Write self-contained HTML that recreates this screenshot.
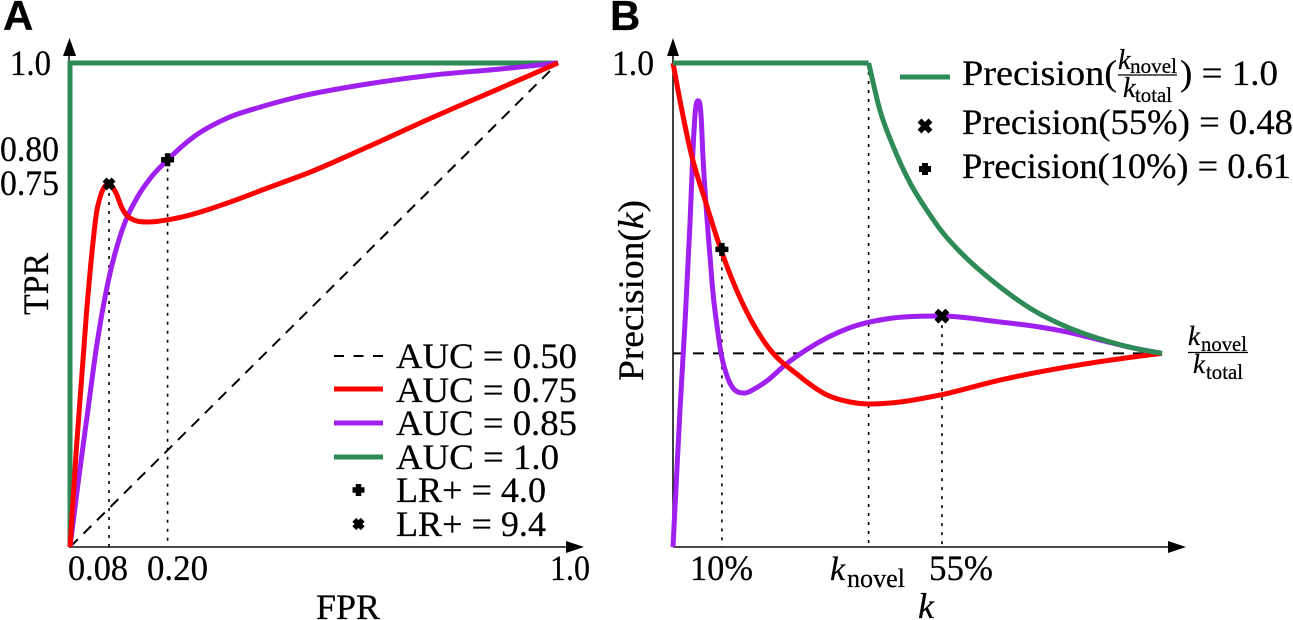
<!DOCTYPE html>
<html lang="en">
<head>
<meta charset="utf-8">
<title>ROC and Precision curves</title>
<style>
html,body{margin:0;padding:0;background:#fff;}
svg{display:block;}
text{font-family:"Liberation Serif",serif;fill:#000;stroke:#000;stroke-width:.25px;}
.panel{font-family:"Liberation Sans",sans-serif;font-weight:bold;font-size:42px;}
.lab{font-size:36px;}
.it{font-style:italic;}
</style>
</head>
<body>
<svg id="fig" width="1293" height="620" viewBox="0 0 1293 620" xmlns="http://www.w3.org/2000/svg">
  <rect x="0" y="0" width="1293" height="620" fill="#fff"/>
  <text class="panel" x="3" y="30">A</text>
  <text class="panel" x="610" y="30">B</text>

  <g>
    <line x1="69" y1="547" x2="69" y2="50" stroke="#222" stroke-width="1.6"/>
    <polygon points="69.500,38 63,56 76,56" fill="#000"/>
    <text class="lab" x="10" y="75" textLength="41" lengthAdjust="spacingAndGlyphs">1.0</text>
    <text class="lab" x="0" y="161" textLength="59" lengthAdjust="spacingAndGlyphs">0.80</text>
    <text class="lab" x="0" y="195" textLength="59" lengthAdjust="spacingAndGlyphs">0.75</text>
    <text class="lab" transform="translate(48,315) rotate(-90)" x="0" y="0" textLength="62" lengthAdjust="spacingAndGlyphs">TPR</text>
  </g>
  <g>
    <line x1="69" y1="547" x2="570" y2="547" stroke="#333" stroke-width="1.8"/>
    <polygon points="584,547 566,541 566,553" fill="#000"/>
    <text class="lab" x="68" y="580" textLength="60" lengthAdjust="spacingAndGlyphs">0.08</text>
    <text class="lab" x="147" y="580" textLength="61" lengthAdjust="spacingAndGlyphs">0.20</text>
    <text class="lab" x="550" y="580" textLength="40" lengthAdjust="spacingAndGlyphs">1.0</text>
    <text class="lab" x="316" y="619" textLength="64" lengthAdjust="spacingAndGlyphs">FPR</text>
  </g>

  <g>
    <line x1="334" y1="356" x2="383" y2="356" stroke="#000" stroke-width="2" stroke-dasharray="10 9.500"/>
    <line x1="334" y1="389" x2="383" y2="389" stroke="#ff0000" stroke-width="5"/>
    <line x1="334" y1="423" x2="383" y2="423" stroke="#a020f0" stroke-width="5"/>
    <line x1="334" y1="457" x2="383" y2="457" stroke="#2e8b57" stroke-width="5"/>
    <path d="M358.500 484V496M352.500 490H364.500" stroke="#000" stroke-width="5.500" fill="none"/>
    <path d="M354.300 519.800L362.700 528.200M362.700 519.800L354.300 528.200" stroke="#000" stroke-width="5.500" fill="none"/>
    <text class="lab" x="396" y="368" textLength="181" lengthAdjust="spacingAndGlyphs">AUC = 0.50</text>
    <text class="lab" x="396" y="402" textLength="181" lengthAdjust="spacingAndGlyphs">AUC = 0.75</text>
    <text class="lab" x="396" y="435" textLength="181" lengthAdjust="spacingAndGlyphs">AUC = 0.85</text>
    <text class="lab" x="396" y="469" textLength="163" lengthAdjust="spacingAndGlyphs">AUC = 1.0</text>
    <text class="lab" x="396" y="502" textLength="150" lengthAdjust="spacingAndGlyphs">LR+ = 4.0</text>
    <text class="lab" x="396" y="536" textLength="150" lengthAdjust="spacingAndGlyphs">LR+ = 9.4</text>
  </g>

  <g>
    <line x1="673" y1="547" x2="673" y2="50" stroke="#000" stroke-width="1.5"/>
    <polygon points="673,38 667,56 679,56" fill="#000"/>
    <text class="lab" x="612" y="75" textLength="42" lengthAdjust="spacingAndGlyphs">1.0</text>
    <text class="lab" transform="translate(643,381) rotate(-90)" x="0" y="0" textLength="181" lengthAdjust="spacingAndGlyphs">Precision(<tspan class="it">k</tspan>)</text>
  </g>
  <g>
    <line x1="673" y1="547" x2="1172" y2="547" stroke="#333" stroke-width="1.8"/>
    <polygon points="1186,547 1168,541 1168,553" fill="#000"/>
    <text class="lab" x="690" y="580" textLength="63" lengthAdjust="spacingAndGlyphs">10%</text>
    <text class="lab" x="929" y="580" textLength="64" lengthAdjust="spacingAndGlyphs">55%</text>
    <text class="it" x="830" y="580" font-size="34">k</text>
    <text x="847" y="587" font-size="26" textLength="58" lengthAdjust="spacingAndGlyphs">novel</text>
    <text class="it" x="918" y="618" font-size="36">k</text>
  </g>

  <g>
    <text class="it" x="1188" y="345" font-size="27">k</text>
    <text x="1201" y="351" font-size="21" textLength="46" lengthAdjust="spacingAndGlyphs">novel</text>
    <line x1="1188" y1="352.500" x2="1248" y2="352.500" stroke="#000" stroke-width="1.2"/>
    <text class="it" x="1193" y="373" font-size="27">k</text>
    <text x="1206" y="379" font-size="21" textLength="37" lengthAdjust="spacingAndGlyphs">total</text>
  </g>

  <g>
    <line x1="900" y1="77" x2="950" y2="77" stroke="#2e8b57" stroke-width="5"/>
    <path d="M919.500 120.500L930.500 131.500M930.500 120.500L919.500 131.500" stroke="#000" stroke-width="5.500" fill="none"/>
    <path d="M925 163V175M919 169H931" stroke="#000" stroke-width="6" fill="none"/>
    <text class="lab" x="962" y="85" textLength="155" lengthAdjust="spacingAndGlyphs">Precision(</text>
    <text class="it" x="1118" y="69" font-size="28">k</text>
    <text x="1130" y="73" font-size="21" textLength="47" lengthAdjust="spacingAndGlyphs">novel</text>
    <line x1="1118" y1="75" x2="1177" y2="75" stroke="#000" stroke-width="1.2"/>
    <text class="it" x="1123" y="97" font-size="28">k</text>
    <text x="1135" y="102" font-size="21" textLength="37" lengthAdjust="spacingAndGlyphs">total</text>
    <text class="lab" x="1180" y="85" textLength="98" lengthAdjust="spacingAndGlyphs">) = 1.0</text>
    <text class="lab" x="962" y="134" textLength="331" lengthAdjust="spacingAndGlyphs">Precision(55%) = 0.48</text>
    <text class="lab" x="962" y="178" textLength="329" lengthAdjust="spacingAndGlyphs">Precision(10%) = 0.61</text>
  </g>

  <g id="panelA"></g>
  <g id="panelB"></g>
</svg>

<script>
// Panel A: ROC curves
const redFpr = [0, .0133, .0338, .0461, .0543, .0645, .0789, .0932, .1076, .1199, .1609, .2203, .3227, .4047, .4928, .6096, .7449, .8822, 1];
const redTpr = [0, .2066, .4835, .6198, .6901, .7314, .75, .7335, .6983, .6818, .6715, .6798, .7107, .7417, .7748, .8264, .8884, .9483, 1];
const purpleFpr = [0, .0174, .0359, .0543, .0789, .1055, .1383, .165, .2018, .2531, .3227, .3904, .458, .6096, .7449, .8822, 1];
const purpleTpr = [0, .1384, .2769, .4132, .5517, .6508, .7231, .7624, .8017, .8471, .8864, .9091, .9277, .9566, .9752, .9876, 1];
const greenFpr = [0, 0, 1];
const greenTpr = [0, 1, 1];
const chanceFpr = [0, 1];
const chanceTpr = [0, 1];
const lrPlusFpr = [0.20];
const lrPlusTpr = [0.80];
const lrCrossFpr = [0.08];
const lrCrossTpr = [0.75];

// Panel B: Precision(k) curves (k in percent)
const precRedK = [0, 1.02, 3.68, 6.54, 9.82, 13.9, 19.43, 25.56, 31.5, 36.2, 40.5, 46.4, 54.6, 66.9, 80.6, 94.07, 100];
const precRedP = [1, .9442, .814, .717, .6136, .5103, .4132, .3554, .314, .2996, .2955, .2996, .314, .345, .372, .3926, .4];
const precPurpleK = [0, 1.43, 2.45, 3.48, 4.09, 4.5, 5.11, 5.73, 6.13, 6.75, 7.57, 8.18, 9, 9.82, 10.84, 12.27, 14.72, 16.97, 19.43, 22.9, 27.2, 36, 45, 54.8, 66.9, 73.6, 80.6, 87.3, 94.1, 100];
const precPurpleP = [0, .2831, .4628, .6694, .8202, .8926, .922, .8926, .8058, .7066, .6, .5248, .4566, .4008, .3595, .3285, .3182, .3285, .345, .376, .407, .4525, .4731, .4773, .4649, .4566, .4442, .4277, .4112, .4];
const precGreenFlatK = [0, 40];
const precGreenFlatP = [1, 1];
const precGreenDecayK = [40, 42.3, 45, 48.5, 51.9, 55.2, 58.7, 66.9, 73.6, 80.6, 87.3, 94.1, 100];
const precGreenDecayP = [1, .903, .8285, .752, .696, .649, .61, .5372, .4897, .4545, .43, .4112, .4];
const baselineK = [0, 100];
const baselineP = [0.4, 0.4];
const kNovelValue = [40];
const kNovelTop = [1];
const plusK = [10];
const plusP = [0.615];
const crossK = [55];
const crossP = [0.477];

const NS = 'http://www.w3.org/2000/svg';
const ax = v => 70 + 488 * v;
const ay = v => 547 - 484 * v;
const bx = v => 673 + 4.89 * v;
const by = v => 547 - 484 * v;
const panelA = document.getElementById('panelA');
const panelB = document.getElementById('panelB');

function straightPath(xs, ys, sx, sy) {
  return xs.map((x, i) => (i ? 'L' : 'M') + sx(x).toFixed(2) + ' ' + sy(ys[i]).toFixed(2)).join('');
}

function smoothPath(xs, ys, sx, sy) {
  const px = xs.map(sx);
  const py = ys.map(sy);
  const n = px.length;
  const d = [];
  for (let i = 0; i < n - 1; i++) d.push((py[i + 1] - py[i]) / (px[i + 1] - px[i]));
  const m = [d[0]];
  for (let i = 1; i < n - 1; i++) {
    if (d[i - 1] * d[i] <= 0) {
      m.push(0);
    } else {
      const h0 = px[i] - px[i - 1];
      const h1 = px[i + 1] - px[i];
      let t = (h1 * d[i - 1] + h0 * d[i]) / (h0 + h1);
      const lim = 3 * Math.min(Math.abs(d[i - 1]), Math.abs(d[i]));
      if (Math.abs(t) > lim) t = Math.sign(t) * lim;
      m.push(t);
    }
  }
  m.push(d[n - 2]);
  let out = 'M' + px[0].toFixed(2) + ' ' + py[0].toFixed(2);
  for (let i = 0; i < n - 1; i++) {
    const h = (px[i + 1] - px[i]) / 3;
    out += 'C' + (px[i] + h).toFixed(2) + ' ' + (py[i] + m[i] * h).toFixed(2) + ' ' +
      (px[i + 1] - h).toFixed(2) + ' ' + (py[i + 1] - m[i + 1] * h).toFixed(2) + ' ' +
      px[i + 1].toFixed(2) + ' ' + py[i + 1].toFixed(2);
  }
  return out;
}

function addPath(parent, d, stroke, width, dash, name) {
  const el = document.createElementNS(NS, 'path');
  el.setAttribute('d', d);
  el.setAttribute('fill', 'none');
  el.setAttribute('stroke', stroke);
  el.setAttribute('stroke-width', width);
  if (dash) el.setAttribute('stroke-dasharray', dash);
  
  
  parent.appendChild(el);
  return el;
}

function addDrop(parent, x, yTop, name) {
  const el = document.createElementNS(NS, 'line');
  el.setAttribute('x1', x);
  el.setAttribute('x2', x);
  el.setAttribute('y1', yTop);
  el.setAttribute('y2', 547);
  el.setAttribute('stroke', '#000');
  el.setAttribute('stroke-width', '1.6');
  el.setAttribute('stroke-dasharray', '3 6');
  
  
  parent.appendChild(el);
}

function addPlus(parent, x, y, name) {
  const r = 6.5;
  const d = 'M' + x + ' ' + (y - r) + 'V' + (y + r) + 'M' + (x - r) + ' ' + y + 'H' + (x + r);
  addPath(parent, d, '#000', 5.5, null, name);
}

function addCross(parent, x, y, r, name) {
  const d = 'M' + (x - r) + ' ' + (y - r) + 'L' + (x + r) + ' ' + (y + r) +
    'M' + (x + r) + ' ' + (y - r) + 'L' + (x - r) + ' ' + (y + r);
  addPath(parent, d, '#000', 5.5, null, name);
}

// Panel A marks
addPath(panelA, straightPath(chanceFpr, chanceTpr, ax, ay), '#000', 2, '11 8', 'chance-line-auc-050');
lrCrossFpr.forEach((v, i) => addDrop(panelA, ax(v), ay(lrCrossTpr[i]), 'lr-cross-dropline'));
lrPlusFpr.forEach((v, i) => addDrop(panelA, ax(v), ay(lrPlusTpr[i]), 'lr-plus-dropline'));
addPath(panelA, straightPath(greenFpr, greenTpr, ax, ay), '#2e8b57', 5, null, 'roc-curve-auc-1');
addPath(panelA, smoothPath(purpleFpr, purpleTpr, ax, ay), '#a020f0', 5, null, 'roc-curve-auc-085');
addPath(panelA, smoothPath(redFpr, redTpr, ax, ay), '#ff0000', 5, null, 'roc-curve-auc-075');
lrPlusFpr.forEach((v, i) => addPlus(panelA, ax(v), ay(lrPlusTpr[i]), 'lr-plus-marker'));
lrCrossFpr.forEach((v, i) => addCross(panelA, ax(v), ay(lrCrossTpr[i]), 4.5, 'lr-cross-marker'));

// Panel B marks
addPath(panelB, straightPath(baselineK, baselineP, bx, by), '#000', 2, '11 9', 'precision-baseline');
plusK.forEach((v, i) => addDrop(panelB, bx(v), by(plusP[i]), 'precision-10-dropline'));
kNovelValue.forEach((v, i) => addDrop(panelB, bx(v), by(kNovelTop[i]), 'k-novel-dropline'));
crossK.forEach((v, i) => addDrop(panelB, bx(v), by(crossP[i]), 'precision-55-dropline'));
addPath(panelB, smoothPath(precPurpleK, precPurpleP, bx, by), '#a020f0', 5, null, 'precision-curve-purple');
addPath(panelB, smoothPath(precRedK, precRedP, bx, by), '#ff0000', 5, null, 'precision-curve-red');
addPath(panelB, straightPath(precGreenFlatK, precGreenFlatP, bx, by) + smoothPath(precGreenDecayK, precGreenDecayP, bx, by), '#2e8b57', 5, null, 'precision-curve-green');
plusK.forEach((v, i) => addPlus(panelB, bx(v), by(plusP[i]), 'precision-plus-marker'));
crossK.forEach((v, i) => addCross(panelB, bx(v), by(crossP[i]), 5.5, 'precision-cross-marker'));
</script>
</body>
</html>
